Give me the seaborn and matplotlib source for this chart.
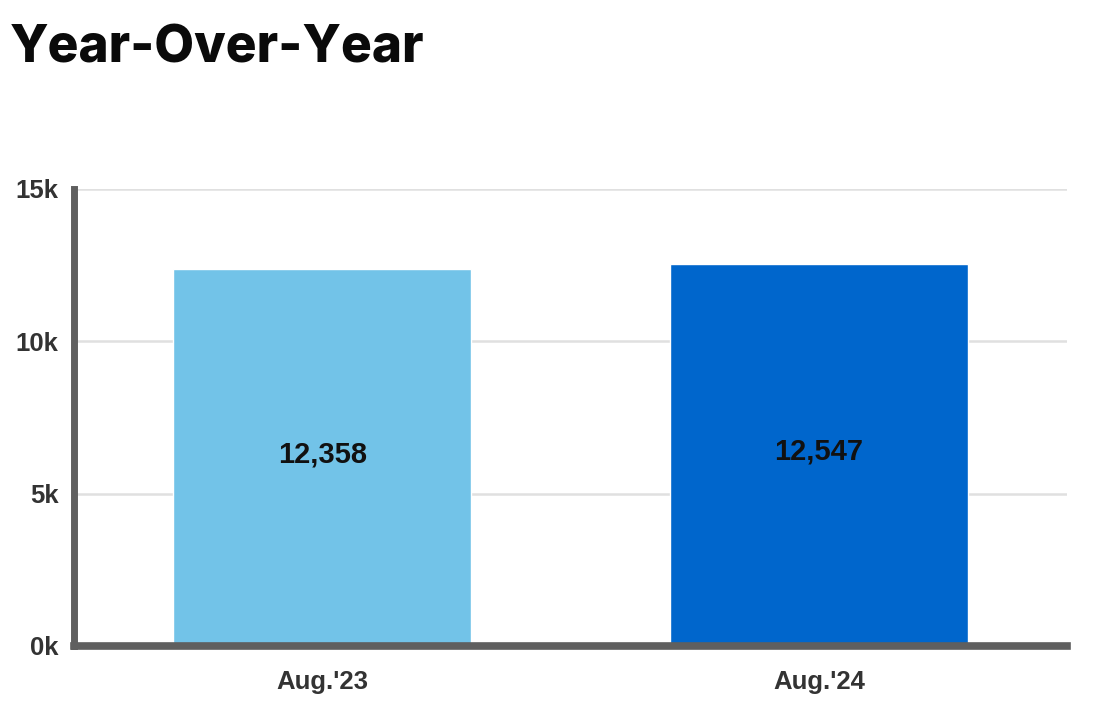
import matplotlib
matplotlib.use("Agg")
import matplotlib.pyplot as plt
import seaborn as sns
import pandas as pd

categories = ["Aug.'23", "Aug.'24"]
values = [12358, 12547]
bar_colors = ["#72C3E8", "#0066CC"]
y_ticks = [0, 5000, 10000, 15000]
y_tick_labels = ["0k", "5k", "10k", "15k"]

sns.set_theme(style="white")
plt.rcParams['font.family'] = ['Liberation Sans', 'DejaVu Sans']

df = pd.DataFrame({"period": categories, "value": values})

fig = plt.figure(figsize=(10.98, 7.02), dpi=100)
ax = fig.add_axes([0.0674, 0.0798, 0.9045, 0.651])

sns.barplot(data=df, x="period", y="value", hue="period",
            palette=dict(zip(categories, bar_colors)), width=0.6,
            legend=False, ax=ax, saturation=1, zorder=2)

ax.set_ylim(0, 15000)
ax.set_xlim(-0.5, 1.5)
ax.set_yticks(y_ticks)
ax.set_yticklabels(y_tick_labels)
ax.set_xlabel("")
ax.set_ylabel("")
ax.grid(axis="y", color="#E0E0E0", linewidth=1.8, zorder=0)
ax.set_axisbelow(True)

for s in ["top", "right"]:
    ax.spines[s].set_visible(False)
for s in ["left", "bottom"]:
    ax.spines[s].set_color("#5F5F5F")
    ax.spines[s].set_zorder(5)
ax.spines["left"].set_linewidth(5)
ax.spines["bottom"].set_linewidth(5.5)

ax.tick_params(axis="both", length=0)
ax.tick_params(axis="y", pad=11, labelsize=18.5, labelcolor="#333333")
ax.tick_params(axis="x", pad=17, labelsize=18.5, labelcolor="#333333")
for lbl in ax.get_xticklabels() + ax.get_yticklabels():
    lbl.set_fontweight("bold")

for i, v in enumerate(values):
    ax.text(i, v / 2 + 100, f"{v:,}", ha="center", va="center",
            fontsize=21, fontweight="bold", color="#111111", zorder=6)

fig.text(0.009, 0.911, "Year-Over-Year", fontsize=37, fontweight="heavy",
         family=["Inter", "DejaVu Sans"], color="#0A0A0A", ha="left", va="baseline")

fig.savefig("out.png", dpi=100)
